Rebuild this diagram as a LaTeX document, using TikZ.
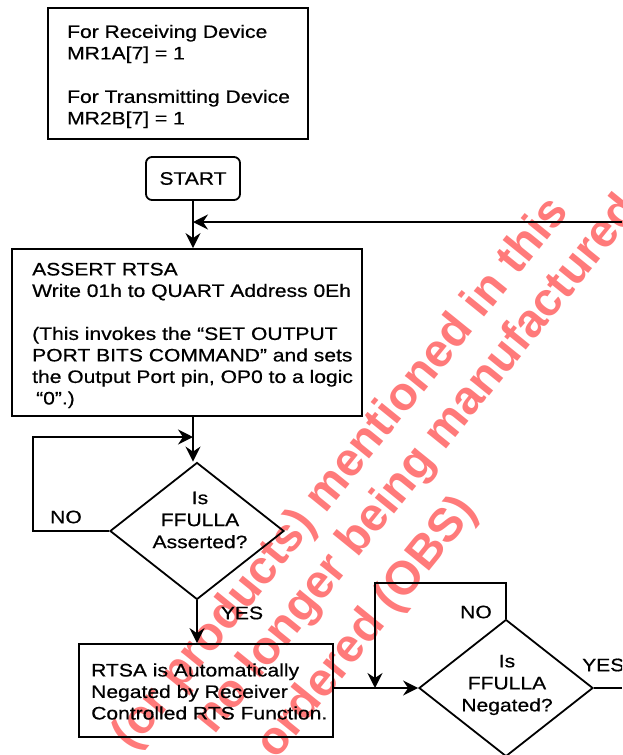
\documentclass[tikz,border=0pt]{standalone}
\usepackage{fontspec}
\setmainfont{Liberation Sans}[FakeStretch=1.17,FakeBold=0.6]
\newfontfamily\wmfont{Liberation Sans}
\usetikzlibrary{arrows.meta,shapes.geometric}
\definecolor{wmred}{RGB}{255,122,122}
\tikzset{
  box/.style={draw, line width=1.8pt, inner sep=0pt},
  txt/.style={align=left, inner sep=0pt, font=\fontsize{18}{21.5}\selectfont},
  ctxt/.style={align=center, inner sep=0pt, font=\fontsize{18}{22}\selectfont},
  lbl/.style={inner sep=0pt, font=\fontsize{18}{21.5}\selectfont},
  ln/.style={line width=1.8pt},
  arr/.style={line width=1.8pt, -{Stealth[length=15pt,width=15pt,inset=5pt]}},
  decision/.style={draw, diamond, line width=1.8pt, inner sep=0pt, minimum width=174pt, minimum height=137pt},
  wm/.style={text=wmred, inner sep=0pt, rotate=51, font=\wmfont\bfseries\fontsize{47}{47}\selectfont}
}
\begin{document}
\begin{tikzpicture}[x=1pt,y=-1pt]
\useasboundingbox (0,0) rectangle (622,755);
\clip (0,0) rectangle (622,755);
% watermark (behind)
\node[wm] (w1) at (342,474) {(or products) mentioned in this};
\node[wm] (w2) at (418,465) {no longer being manufactured};
\node[wm] (w3) at (368,628) {ordered (OBS)};
% top note box
\node[box, minimum width=260pt, minimum height=131pt] (note) at (178,73.5) {};
\node[txt, anchor=west] (notet) at (67,76.5) {For Receiving Device\\MR1A[7] = 1\\[22pt]For Transmitting Device\\MR2B[7] = 1};
% start
\node[box, rounded corners=6pt, minimum width=94pt, minimum height=43pt, lbl] (start) at (193,178.5) {START};
% assert box
\node[box, minimum width=350pt, minimum height=167pt] (assert) at (187,332.5) {};
\node[txt, anchor=west] (assertt) at (32,335.5) {ASSERT RTSA\\Write 01h to QUART Address 0Eh\\[21.5pt](This invokes the “SET OUTPUT\\PORT BITS COMMAND” and sets\\the Output Port pin, OP0 to a logic\\\hspace*{4pt}“0”.)};
% decision 1
\node[decision] (d1) at (197,531) {};
\node[ctxt] (d1t) at (200,520) {Is\\FFULLA\\Asserted?};
% rtsa box
\node[box, minimum width=254pt, minimum height=93pt] (rtsa) at (206,690.5) {};
\node[txt, anchor=west] (rtsat) at (91,691.5) {RTSA is Automatically\\Negated by Receiver\\Controlled RTS Function.};
% decision 2
\node[decision] (d2) at (506,688) {};
\node[ctxt] (d2t) at (507,685) {Is\\FFULLA\\Negated?};
% labels
\node[lbl] (no1) at (66,517) {NO};
\node[lbl] (yes1) at (242,613) {YES};
\node[lbl] (no2) at (476,612) {NO};
\node[lbl, anchor=west] (yes2) at (582,665) {YES};
% coordinates
\coordinate (fbR) at (622,222);
\coordinate (j1) at (193,437);
\coordinate (nl1) at (33,531);
\coordinate (nl2) at (375,583);
\coordinate (yr) at (622,688);
% connectors
\draw[arr] (start.south) -- (start.south |- assert.north);
\draw[arr] (fbR) -- (start.south |- fbR);
\draw[arr] (start.south |- assert.south) -- (start.south |- d1.north);
\draw[arr] (d1.west) -- (nl1) |- (j1);
\draw[arr] (d1.south) -- (d1.south |- rtsa.north);
\draw[arr] (rtsa.east |- d2.west) -- (d2.west);
\draw[arr] (d2.north) |- (nl2) -- (nl2 |- d2.west);
\draw[ln] (d2.east) -- (yr);
\end{tikzpicture}
\end{document}
